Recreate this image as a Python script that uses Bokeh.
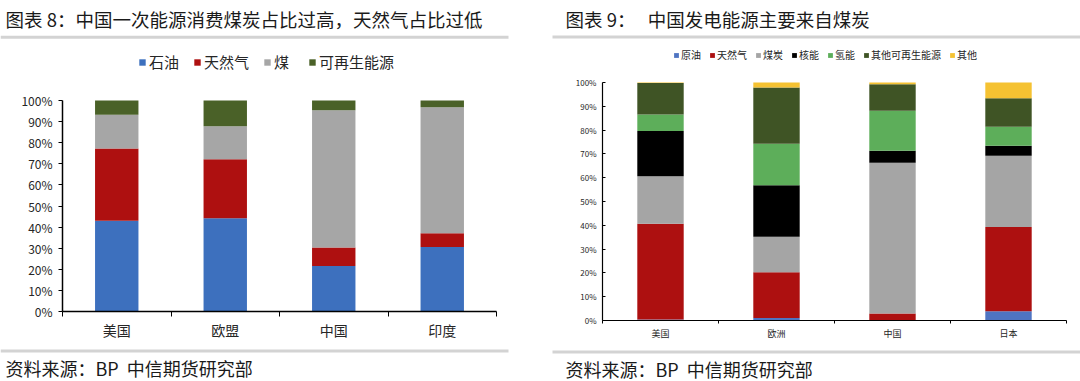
from bokeh.plotting import figure
from bokeh.models import (ColumnDataSource, Range1d, FixedTicker, PrintfTickFormatter,
                          Legend, LegendItem)
from bokeh.layouts import row, column
from bokeh.core.properties import value
from bokeh.embed import file_html
from bokeh.resources import INLINE

FONT = "Noto Sans CJK SC"

# ---------- Chart 8 data ----------
cats8 = ["美国", "欧盟", "中国", "印度"]
series8 = ["石油", "天然气", "煤", "可再生能源"]
oil8 = [43.0, 44.2, 21.6, 30.6]
gas8 = [34.3, 27.9, 8.7, 6.5]
coal8 = [16.0, 15.7, 65.1, 59.7]
renew8 = [6.7, 12.2, 4.6, 3.2]
colors8 = ["#3D70BE", "#AE1010", "#A6A6A6", "#4A6128"]
title8 = "图表 8：中国一次能源消费煤炭占比过高，天然气占比过低"

# ---------- Chart 9 data ----------
cats9 = ["美国", "欧洲", "中国", "日本"]
series9 = ["原油", "天然气", "煤炭", "核能", "氢能", "其他可再生能源", "其他"]
oil9 = [0.4, 1.1, 0.1, 3.9]
gas9 = [40.2, 19.2, 2.8, 35.4]
coal9 = [20.0, 14.9, 63.4, 29.9]
nuclear9 = [19.0, 21.6, 5.0, 4.2]
hydro9 = [7.0, 17.5, 16.8, 8.0]
renew9 = [13.2, 23.6, 11.2, 12.0]
other9 = [0.2, 2.1, 0.7, 6.6]
colors9 = ["#4F74C2", "#AD1010", "#A5A5A5", "#000000", "#5DAE5A", "#3F5425", "#F5C232"]
title9 = "图表 9：\u00a0\u00a0\u00a0中国发电能源主要来自煤炭"

source_text = "资料来源：BP\u00a0\u00a0中信期货研究部"
y_ticks = [0, 10, 20, 30, 40, 50, 60, 70, 80, 90, 100]

W = 1080
HEAD_H = 40
PLOT_H = 305
FOOT_H = 36
LINE_COLOR = "#D3D3D3"
TEXT_COLOR = "#1a1a1a"


def make_panel(cats, series, cols, colors, cfg):
    xs = [i + 0.5 for i in range(len(cats))]
    data = {"x": xs}
    for s, c in zip(series, cols):
        data[s] = c
    src = ColumnDataSource(data)
    frame_h = PLOT_H - cfg["bt"] - cfg["bb"]
    # the frame extends above 100% to host the legend; axis line stops at 100%
    y_top = 100.0 * frame_h / cfg["px100"]
    p = figure(width=cfg["w"], height=PLOT_H, title=None,
               x_range=Range1d(0, len(cats)), y_range=Range1d(0, y_top),
               output_backend="svg", toolbar_location=None,
               min_border_left=cfg["bl"], min_border_right=cfg["br"],
               min_border_top=cfg["bt"], min_border_bottom=cfg["bb"])
    p.frame_align = False
    p.outline_line_color = None
    p.xgrid.visible = False
    p.ygrid.visible = False
    rs = p.vbar_stack(series, x="x", width=0.4, fill_color=colors,
                      line_color=None, source=src)

    xa = p.xaxis[0]
    xa.ticker = FixedTicker(ticks=xs, minor_ticks=list(range(len(cats) + 1)))
    xa.major_label_overrides = {x: c for x, c in zip(xs, cats)}
    xa.major_tick_out = 0
    xa.major_tick_in = 0
    xa.minor_tick_out = cfg["mt"]
    xa.minor_tick_in = 0
    xa.minor_tick_line_color = "#000000"
    xa.axis_line_color = "#000000"
    xa.axis_line_width = cfg["aw"]
    xa.major_label_text_font = FONT
    xa.major_label_text_font_size = cfg["xfs"]
    xa.major_label_text_color = "#262626"
    xa.major_label_standoff = cfg["xso"]

    ya = p.yaxis[0]
    ya.bounds = (0, 100)
    ya.ticker = FixedTicker(ticks=y_ticks)
    ya.formatter = PrintfTickFormatter(format="%d%%")
    ya.major_tick_out = cfg["yto"]
    ya.major_tick_in = cfg["yti"]
    ya.minor_tick_out = 0
    ya.minor_tick_in = 0
    ya.major_tick_line_color = "#000000"
    ya.axis_line_color = "#000000"
    ya.axis_line_width = cfg["aw"]
    ya.major_label_text_font = FONT
    ya.major_label_text_font_size = cfg["yfs"]
    ya.major_label_text_color = "#262626"
    ya.major_label_standoff = cfg["yso"]

    items = [LegendItem(label=s, renderers=[r]) for s, r in zip(series, rs)]
    leg = Legend(items=items, location=cfg["legloc"], orientation="horizontal",
                 label_text_font=FONT, label_text_font_size=cfg["lfs"],
                 label_text_color="#262626",
                 glyph_width=cfg["gw"], glyph_height=cfg["gw"],
                 label_standoff=cfg["lso"], spacing=cfg["lsp"],
                 label_height=cfg["lh"], padding=0, margin=0,
                 border_line_color=None, background_fill_alpha=0)
    p.add_layout(leg, "center")
    return p


def deco_figure(height, texts, lines):
    """Header/footer strip holding titles, source notes and grey rules."""
    f = figure(width=W, height=height, title=None,
               x_range=Range1d(0, W), y_range=Range1d(height, 0),
               x_axis_location=None, y_axis_location=None,
               output_backend="svg", toolbar_location=None,
               min_border=0)
    f.frame_align = False
    f.outline_line_color = None
    f.xgrid.visible = False
    f.ygrid.visible = False
    for (x0, x1, yc, th) in lines:
        f.quad(left=[x0], right=[x1], top=[yc - th / 2], bottom=[yc + th / 2],
               fill_color=LINE_COLOR, line_color=None)
    for (x, y, t, fs) in texts:
        f.text(x=[x], y=[y], text=[t], text_font=value(FONT),
               text_font_size=value(fs), text_color=TEXT_COLOR,
               text_baseline="middle", text_align="left")
    return f


cfg8 = dict(w=552, bl=62, br=56, bt=10, bb=34, px100=211, mt=5, aw=1.5,
            xfs="14px", xso=3, yfs="12px", yto=4, yti=0, yso=6,
            legloc=(76, 239), lfs="15px", gw=8, lso=3, lsp=14, lh=18)
cfg9 = dict(w=528, bl=50, br=14, bt=5, bb=25, px100=238, mt=3, aw=1.2,
            xfs="9px", xso=3, yfs="8px", yto=0, yti=3, yso=6,
            legloc=(71, 258), lfs="10px", gw=6, lso=2, lsp=8, lh=12)

p8 = make_panel(cats8, series8, [oil8, gas8, coal8, renew8], colors8, cfg8)
p9 = make_panel(cats9, series9, [oil9, gas9, coal9, nuclear9, hydro9, renew9, other9],
                colors9, cfg9)

header = deco_figure(HEAD_H,
                     texts=[(5, 18.5, title8, "18.5px"), (565, 18.5, title9, "18.5px")],
                     lines=[(0, 508, 36.7, 3), (552, 1080, 36.5, 3)])
footer = deco_figure(FOOT_H,
                     texts=[(5, 22.5, source_text, "18px"), (565, 23, source_text, "18px")],
                     lines=[(0, 508, 5.5, 3), (552, 1080, 6.5, 3)])

layout = column(header, row(p8, p9), footer)
open("out.html", "w").write(file_html(layout, INLINE))
